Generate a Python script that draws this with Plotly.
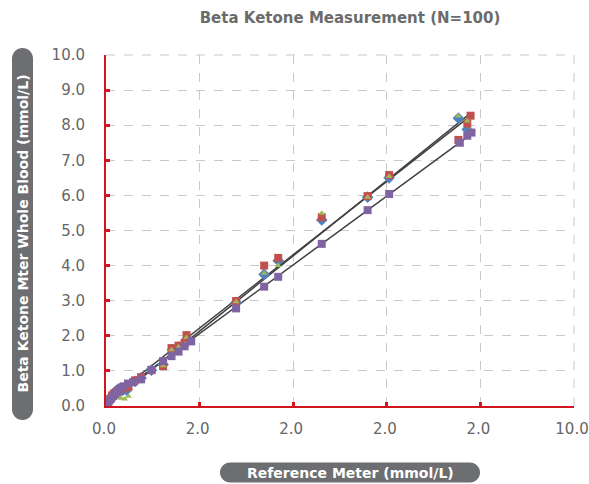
import numpy as np
import plotly.graph_objects as go

# ---- data ----
blue_x = [0.06, 0.10, 0.14, 0.18, 0.22, 0.26, 0.30, 0.36, 0.44, 0.62, 0.75, 0.97, 1.22, 1.42, 1.56, 1.68, 1.74, 2.78, 3.38, 3.68, 4.61, 5.59, 6.05, 7.53, 7.72]
blue_y = [0.14, 0.22, 0.30, 0.38, 0.44, 0.48, 0.50, 0.45, 0.45, 0.70, 0.80, 1.02, 1.18, 1.60, 1.68, 1.76, 1.92, 2.95, 3.75, 4.14, 5.30, 5.95, 6.50, 8.20, 7.88]

red_x = [0.05, 0.09, 0.13, 0.17, 0.21, 0.26, 0.32, 0.40, 0.48, 0.62, 0.75, 0.97, 1.22, 1.40, 1.55, 1.68, 1.72, 2.78, 3.38, 3.68, 4.61, 5.59, 6.05, 7.53, 7.72, 7.79]
red_y = [0.12, 0.20, 0.30, 0.35, 0.38, 0.42, 0.48, 0.52, 0.55, 0.73, 0.82, 1.02, 1.14, 1.65, 1.72, 1.80, 2.02, 2.99, 4.00, 4.22, 5.38, 5.98, 6.58, 7.58, 8.05, 8.27]

green_x = [0.05, 0.09, 0.13, 0.17, 0.21, 0.26, 0.32, 0.40, 0.48, 0.62, 0.75, 0.97, 1.22, 1.40, 1.55, 1.68, 1.72, 2.78, 3.38, 3.68, 4.61, 5.59, 6.05, 7.53, 7.72, 7.79]
green_y = [0.08, 0.12, 0.18, 0.22, 0.25, 0.24, 0.22, 0.20, 0.28, 0.66, 0.70, 1.00, 1.15, 1.60, 1.68, 1.76, 1.95, 2.97, 3.78, 4.00, 5.49, 5.95, 6.54, 8.26, 8.12, 7.86]

purple_x = [0.03, 0.07, 0.11, 0.15, 0.19, 0.24, 0.30, 0.38, 0.47, 0.58, 0.75, 0.97, 1.22, 1.40, 1.55, 1.68, 1.82, 2.78, 3.38, 3.68, 4.61, 5.59, 6.05, 7.56, 7.72, 7.81]
purple_y = [0.10, 0.16, 0.22, 0.28, 0.34, 0.40, 0.48, 0.56, 0.64, 0.68, 0.76, 1.03, 1.28, 1.42, 1.55, 1.70, 1.84, 2.78, 3.40, 3.68, 4.62, 5.58, 6.04, 7.50, 7.70, 7.79]

x_tick_vals = [0, 2, 4, 6, 8, 10]
x_tick_text = ["0.0", "2.0", "2.0", "2.0", "2.0", "10.0"]
y_tick_vals = [0, 1, 2, 3, 4, 5, 6, 7, 8, 9, 10]
y_tick_text = ["0.0", "1.0", "2.0", "3.0", "4.0", "5.0", "6.0", "7.0", "8.0", "9.0", "10.0"]

title_text = "Beta Ketone Measurement (N=100)"
x_title = "Reference Meter (mmol/L)"
y_title = "Beta Ketone Mter Whole Blood (mmol/L)"

series = [
    ("Blue", blue_x, blue_y, "#4f81bd", "diamond", 9),
    ("Red", red_x, red_y, "#c0504d", "square", 8),
    ("Green", green_x, green_y, "#9bbb59", "triangle-up", 6),
    ("Purple", purple_x, purple_y, "#8064a2", "square", 8),
]

W, H = 589, 484
L, R, T, B = 106, 15, 55, 78
pw, ph = W - L - R, H - T - B

fig = go.Figure()

# trend lines (fit from data)
for name, xs, ys, col, sym, sz in series:
    if name == "Blue":
        continue
    k, b0 = np.polyfit(xs, ys, 1)
    xx = np.array([min(xs), max(xs)])
    fig.add_trace(go.Scatter(x=xx, y=k * xx + b0, mode="lines",
                             line=dict(color="#404040", width=1.5),
                             showlegend=False, hoverinfo="skip"))

for name, xs, ys, col, sym, sz in series:
    fig.add_trace(go.Scatter(x=xs, y=ys, mode="markers", name=name,
                             marker=dict(color=col, symbol=sym, size=sz,
                                         line=dict(width=0)),
                             showlegend=False))

red = "#d2141e"
font_fam = "DejaVu Sans, sans-serif"

fig.update_layout(
    width=W, height=H,
    margin=dict(l=L, r=R, t=T, b=B, autoexpand=False),
    paper_bgcolor="white", plot_bgcolor="white",
    title=dict(text="<b>" + title_text + "</b>", x=350 / W, xanchor="center",
               y=1 - 18 / H, yanchor="middle",
               font=dict(family=font_fam, size=15, color="#6b6b6b")),
    font=dict(family=font_fam, color="#666666"),
)

fig.update_xaxes(range=[0, 10], tickvals=x_tick_vals, ticktext=x_tick_text,
                 automargin=False, ticklabeloverflow="allow", ticklabelshift=-2,
                 showgrid=True, gridcolor="#c8c8c8", griddash="dash", gridwidth=1,
                 zeroline=False, showline=True, linecolor=red, linewidth=2,
                 ticks="inside", ticklen=4, tickwidth=3, tickcolor=red,
                 tickfont=dict(size=15, color="#666666"), ticklabelstandoff=8)
fig.update_yaxes(range=[0, 10], tickvals=y_tick_vals, ticktext=y_tick_text,
                 automargin=False, ticklabeloverflow="allow",
                 showgrid=True, gridcolor="#c8c8c8", griddash="dash", gridwidth=1,
                 zeroline=False, showline=True, linecolor=red, linewidth=2,
                 ticks="inside", ticklen=4, tickwidth=3, tickcolor=red,
                 tickfont=dict(size=15, color="#666666"), ticklabelstandoff=16)

# top/right dashed border
fig.add_shape(type="line", xref="paper", yref="paper", x0=0, x1=1, y0=1, y1=1,
              line=dict(color="#c8c8c8", width=1, dash="dash"))
fig.add_shape(type="line", xref="paper", yref="paper", x0=1, x1=1, y0=0, y1=1,
              line=dict(color="#c8c8c8", width=1, dash="dash"))


def stadium(cx, cy, w, h):
    r = h / 2.0
    hw = w / 2.0
    k = 0.5523 * r
    p = (f"M {-hw + r},{r} L {hw - r},{r} "
         f"C {hw - r + k},{r} {hw},{k} {hw},0 "
         f"C {hw},{-k} {hw - r + k},{-r} {hw - r},{-r} "
         f"L {-hw + r},{-r} "
         f"C {-hw + r - k},{-r} {-hw},{-k} {-hw},0 "
         f"C {-hw},{k} {-hw + r - k},{r} {-hw + r},{r} Z")
    return dict(type="path", xref="paper", yref="paper",
                xsizemode="pixel", ysizemode="pixel",
                xanchor=(cx - L) / pw, yanchor=(H - B - cy) / ph,
                path=p, fillcolor="#6d6e71", line=dict(width=0), layer="below")


def vstadium(cx, cy, w, h):
    r = w / 2.0
    hh = h / 2.0
    k = 0.5523 * r
    p = (f"M {-r},{hh - r} L {-r},{-hh + r} "
         f"C {-r},{-hh + r - k} {-k},{-hh} 0,{-hh} "
         f"C {k},{-hh} {r},{-hh + r - k} {r},{-hh + r} "
         f"L {r},{hh - r} "
         f"C {r},{hh - r + k} {k},{hh} 0,{hh} "
         f"C {-k},{hh} {-r},{hh - r + k} {-r},{hh - r} Z")
    return dict(type="path", xref="paper", yref="paper",
                xsizemode="pixel", ysizemode="pixel",
                xanchor=(cx - L) / pw, yanchor=(H - B - cy) / ph,
                path=p, fillcolor="#6d6e71", line=dict(width=0), layer="below")


fig.add_shape(**stadium(350, 472.5, 260, 20))
fig.add_shape(**vstadium(22.5, 234, 21, 372))

fig.add_annotation(text="<b>" + x_title + "</b>", xref="paper", yref="paper",
                   x=(350 - L) / pw, y=(H - B - 472.5) / ph, showarrow=False,
                   xanchor="center", yanchor="middle",
                   font=dict(family=font_fam, size=14, color="white"))
fig.add_annotation(text="<b>" + y_title + "</b>", xref="paper", yref="paper",
                   x=(22.5 - L) / pw, y=(H - B - 234) / ph, showarrow=False,
                   xanchor="center", yanchor="middle", textangle=-90,
                   font=dict(family=font_fam, size=14, color="white"))

fig.write_html("out.html", config={"displayModeBar": False},
               post_script="document.body.style.margin='0';document.body.style.padding='0';document.documentElement.style.overflow='hidden';")
